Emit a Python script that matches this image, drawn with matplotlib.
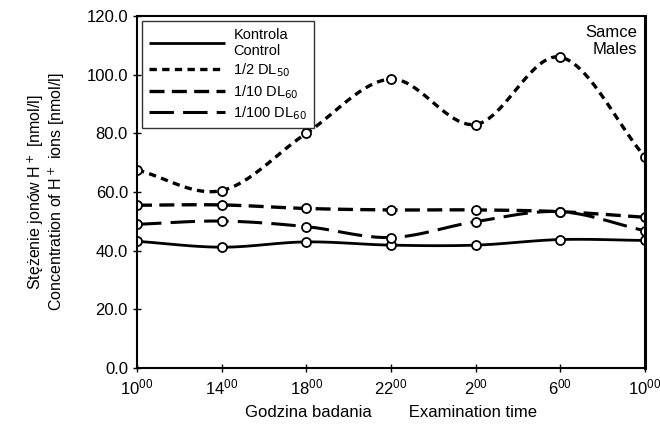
import numpy as np
import matplotlib
matplotlib.use('Agg')
import matplotlib.pyplot as plt

plt.rcParams['font.family'] = ['Liberation Sans', 'DejaVu Sans']

# godziny badania
hours = ['10', '14', '18', '22', '2', '6', '10']
control = [43.2, 41.2, 43.0, 41.9, 41.9, 43.8, 43.5]
dl_half = [67.5, 60.5, 80.0, 98.5, 83.0, 106.0, 72.0]
dl_tenth = [55.5, 55.6, 54.4, 53.9, 53.9, 53.3, 51.4]
dl_hundredth = [49.0, 50.1, 48.2, 44.5, 49.9, 53.3, 46.8]

labels = ['Kontrola\nControl', '1/2 DL$_{50}$', '1/10 DL$_{60}$', '1/100 DL$_{60}$']


def smooth(x, y, n=20):
    # Catmull-Rom spline between the points
    x = np.asarray(x, float)
    y = np.asarray(y, float)
    px = np.concatenate([[2 * x[0] - x[1]], x, [2 * x[-1] - x[-2]]])
    py = np.concatenate([[2 * y[0] - y[1]], y, [2 * y[-1] - y[-2]]])
    xs, ys = [], []
    t = np.linspace(0, 1, n, endpoint=False)
    for i in range(1, len(px) - 2):
        for p, out in ((px, xs), (py, ys)):
            p0, p1, p2, p3 = p[i - 1], p[i], p[i + 1], p[i + 2]
            out.extend(0.5 * (2 * p1 + (-p0 + p2) * t
                              + (2 * p0 - 5 * p1 + 4 * p2 - p3) * t ** 2
                              + (-p0 + 3 * p1 - 3 * p2 + p3) * t ** 3))
    xs.append(x[-1])
    ys.append(y[-1])
    return np.array(xs), np.array(ys)


fig = plt.figure(figsize=(6.6, 4.32), dpi=100)
ax = fig.add_axes([0.2076, 0.148, 0.7694, 0.815])

x = np.arange(len(hours))
series = [control, dl_half, dl_tenth, dl_hundredth]
styles = [(0, ()), (0, (2.2, 1.6)), (0, (4.5, 2.2)), (0, (8, 3))]
widths = [2.0, 2.4, 2.4, 2.2]

for vals, ls, lw, lab in zip(series, styles, widths, labels):
    sx, sy = smooth(x, vals)
    ax.plot(sx, sy, color='black', linestyle=ls, linewidth=lw, label=lab)
    ax.plot(x, vals, linestyle='none', marker='o', markersize=6.5,
            markerfacecolor='white', markeredgecolor='black', markeredgewidth=1.3)

ax.set_xlim(0, len(hours) - 1)
ax.set_ylim(0, 120)
ax.set_xticks(x)
ax.set_xticklabels([r'$\mathregular{%s^{00}}$' % h for h in hours], fontsize=12)
ax.set_yticks(np.arange(0, 121, 20))
ax.set_yticklabels(['%.1f' % v for v in np.arange(0, 121, 20)], fontsize=12)
ax.tick_params(direction='inout', length=6, width=1)
for s in ax.spines.values():
    s.set_linewidth(1.5)
ax.spines['right'].set_linewidth(2.2)

ax.set_ylabel('Stężenie jonów H$^+$ [nmol/l]\nConcentration of H$^+$ ions [nmol/l]',
              fontsize=11.5, labelpad=14, linespacing=1.05)
ax.set_xlabel('Godzina badania        Examination time', fontsize=12, labelpad=6)

ax.text(0.985, 0.975, 'Samce\nMales', transform=ax.transAxes, ha='right', va='top',
        fontsize=12, linespacing=1.15)

leg = ax.legend(loc='upper left', fontsize=10.5, frameon=True, fancybox=False,
                edgecolor='black', handlelength=5.2, borderaxespad=0.35,
                labelspacing=0.25, handletextpad=0.6, borderpad=0.45)
leg.get_frame().set_linewidth(1.0)

plt.savefig('out.png', dpi=100)
plt.close()
